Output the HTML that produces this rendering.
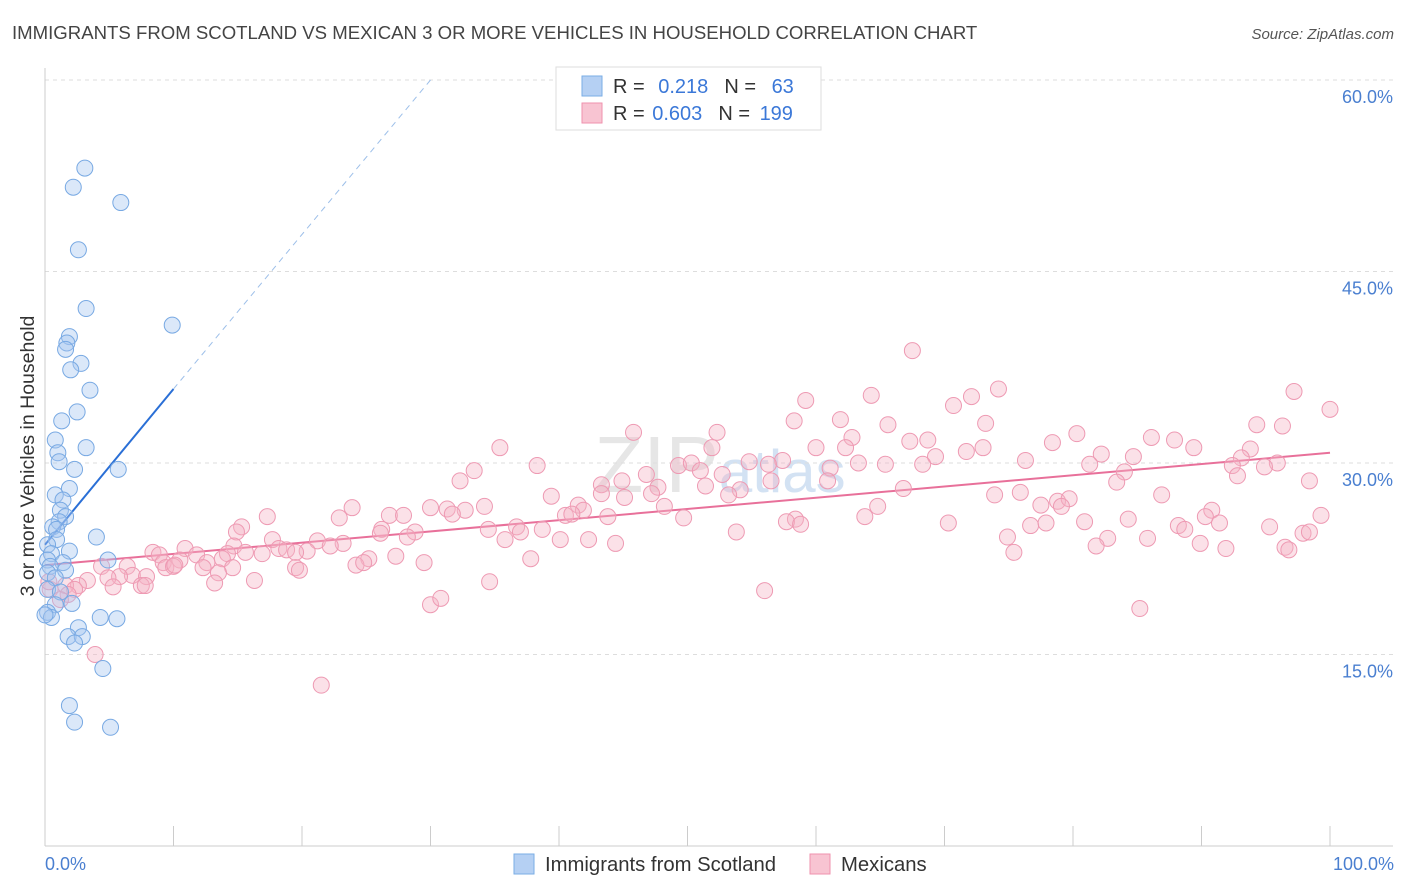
<!DOCTYPE html>
<html><head><meta charset="utf-8">
<style>
body{margin:0;background:#fff;font-family:"Liberation Sans",sans-serif;}
#wrap{position:relative;width:1406px;height:892px;overflow:hidden;}
svg text{font-family:"Liberation Sans",sans-serif;}
</style></head>
<body>
<div id="wrap">
<svg id="chart" width="1406" height="892">
  <text x="12" y="39" font-size="18.6" fill="#444">IMMIGRANTS FROM SCOTLAND VS MEXICAN 3 OR MORE VEHICLES IN HOUSEHOLD CORRELATION CHART</text>
  <text x="1394" y="39" font-size="15" fill="#555" text-anchor="end" font-style="italic">Source: ZipAtlas.com</text>
  <text x="720" y="492" font-size="80" fill="#e6e6e6" text-anchor="middle" font-family="Liberation Serif">ZIP<tspan font-size="60" fill="#d3e2f3" font-family="Liberation Sans">atlas</tspan></text>
  <g id="grid"></g>
  <g id="axes"></g>
  <g id="trend"></g>
  <g id="pts"></g>
  <text x="28" y="456" font-size="19.5" fill="#333" text-anchor="middle" transform="rotate(-90 28 456)" dy="6">3 or more Vehicles in Household</text>
  <text x="45" y="870" font-size="18" fill="#4a7fd0">0.0%</text>
  <text x="1394" y="870" font-size="18" fill="#4a7fd0" text-anchor="end">100.0%</text>
  <g>
    <rect x="556" y="67" width="265" height="63" fill="#fff" stroke="#ddd"/>
    <rect x="582" y="76" width="20" height="20" fill="#b5d0f3" stroke="#7aaee6"/>
    <rect x="582" y="103" width="20" height="20" fill="#f8c4d2" stroke="#ef92ae"/>
    <text x="613" y="93" font-size="20" fill="#333">R = <tspan fill="#3b78d8" dx="8">0.218</tspan><tspan dx="16" fill="#333">N = </tspan><tspan fill="#3b78d8" dx="10">63</tspan></text>
    <text x="613" y="120" font-size="20" fill="#333">R = <tspan fill="#3b78d8" dx="2">0.603</tspan><tspan dx="16" fill="#333">N = </tspan><tspan fill="#3b78d8" dx="4">199</tspan></text>
  </g>
  <g>
    <rect x="514" y="854" width="20" height="20" fill="#b5d0f3" stroke="#7aaee6"/>
    <text x="545" y="871" font-size="20.3" fill="#333">Immigrants from Scotland</text>
    <rect x="810" y="854" width="20" height="20" fill="#f8c4d2" stroke="#ef92ae"/>
    <text x="841" y="871" font-size="20.3" fill="#333">Mexicans</text>
  </g>
</svg>
</div>
<script>
const yTicks=[15,30,45,60];
const yTickLabels=["15.0%","30.0%","45.0%","60.0%"];
const xTicks=[0,10,20,30,40,50,60,70,80,90,100];
const blueX=[3.1,2.2,5.9,2.6,3.2,9.9,1.9,1.7,1.6,2.8,2.0,3.5,2.5,1.3,0.8,3.2,1.0,1.1,2.3,5.7,1.9,0.8,1.4,1.2,1.6,1.1,0.6,0.9,4.0,0.9,0.2,1.9,0.5,4.9,0.2,1.4,0.4,1.6,0.2,0.8,0.2,1.2,2.1,0.8,0.2,0.5,4.3,5.6,2.6,1.8,2.9,2.3,4.5,1.9,2.3,5.1,0.0];
const blueY=[53.1,51.6,50.4,46.7,42.1,40.8,39.9,39.4,38.9,37.8,37.3,35.7,34.0,33.3,31.8,31.2,30.8,30.1,29.5,29.5,28.0,27.5,27.1,26.3,25.8,25.4,25.0,24.8,24.2,24.0,23.6,23.1,22.9,22.4,22.4,22.2,21.9,21.6,21.4,21.0,20.1,19.9,19.0,18.9,18.3,17.9,17.9,17.8,17.1,16.4,16.4,15.9,13.9,11.0,9.7,9.3,18.1];
const pinkX=[3.9,21.5,56.0,85.2,30.0,30.8,67.5,74.2,97.2,100,64.3,72.1,70.7,59.2,61.9,58.3,65.6,73.2,94.3,96.3,45.8,52.3,62.8,80.3,86.1,87.9,78.4,67.3,68.7,35.4,51.9,62.3,60.0,89.4,93.8,71.7,73.0,93.1,84.7,82.2,69.3,76.3,57.4,54.8,63.3,38.3,49.3,50.3,56.3,68.3,81.3,95.9,92.4,94.9,33.4,51.0,61.1,65.4,46.8,52.7,84.0,92.8,32.3,44.9,47.7,56.5,60.9,83.4,98.4,43.3,51.4,66.8,75.9,39.4,43.3,45.1,47.2,54.1,53.2,86.9,73.9,77.5,78.8,79.7,79.1,30.0,31.3,34.2,32.7,23.9,41.5,41.9,48.2,64.8,90.8,17.3,22.9,26.8,27.9,31.7,40.5,41.0,43.8,49.7,58.4,63.8,84.3,90.3,99.3,15.3,14.9,34.5,36.7,37.0,38.7,57.7,58.8,70.3,76.7,77.9,80.9,88.2,88.7,91.4,95.3,26.2,26.1,28.8,28.2,53.8,35.8,40.1,42.3,74.9,82.7,85.8,97.9,98.4,17.7,21.2,23.2,18.2,22.2,14.7,44.4,89.9,91.9,96.5,81.8,15.6,10.9,18.8,20.4,8.4,8.9,11.8,14.2,16.9,19.5,75.4,96.8,13.8,10.5,25.2,27.3,37.8,9.2,12.6,9.4,10.0,10.1,24.2,29.5,24.8,6.4,4.4,12.3,19.5,19.8,14.6,6.8,5.8,7.9,4.9,13.5,13.2,16.3,3.3,2.6,7.5,7.8,5.3,1.6,2.3,1.8,0.4,1.2,0.3,34.6];
const pinkY=[15.0,12.6,20.0,18.6,18.9,19.4,38.8,35.8,35.6,34.2,35.3,35.2,34.5,34.9,33.4,33.3,33.0,33.1,33.0,32.9,32.4,32.4,32.0,32.3,32.0,31.8,31.6,31.7,31.8,31.2,31.2,31.2,31.2,31.2,31.1,30.9,31.2,30.4,30.5,30.7,30.5,30.2,30.2,30.1,30.0,29.8,29.8,30.0,29.9,29.9,29.9,30.0,29.8,29.7,29.4,29.4,29.6,29.9,29.1,29.1,29.3,29.0,28.6,28.6,28.1,28.6,28.6,28.5,28.6,28.3,28.2,28.0,27.7,27.4,27.6,27.3,27.6,27.9,27.5,27.5,27.5,26.7,27.0,27.2,26.6,26.5,26.4,26.6,26.3,26.5,26.7,26.3,26.6,26.6,26.3,25.8,25.7,25.9,25.9,26.0,25.9,26.0,25.8,25.7,25.6,25.8,25.6,25.8,25.9,25.0,24.6,24.8,25.0,24.6,24.8,25.4,25.2,25.3,25.1,25.3,25.4,25.1,24.8,25.3,25.0,24.8,24.5,24.6,24.2,24.6,24.0,24.0,24.0,24.2,24.1,24.1,24.5,24.6,24.0,23.9,23.7,23.3,23.5,23.5,23.7,23.7,23.3,23.4,23.5,23.0,23.3,23.2,23.1,23.0,22.8,22.8,22.9,22.9,23.0,23.0,23.2,22.5,22.4,22.5,22.7,22.5,22.2,22.2,21.8,21.9,22.0,22.0,22.2,22.2,21.9,21.9,21.8,21.8,21.6,21.8,21.2,21.1,21.1,21.0,21.4,20.6,20.8,20.8,20.4,20.4,20.4,20.3,20.4,20.1,19.7,20.1,19.3,20.7,20.7];
const blueTrend=[[0,23.6],[10,35.8]];
const blueTrendExt=[[10,35.8],[30,60.0]];
const pinkTrend=[[0,22.0],[100,30.8]];

const NS="http://www.w3.org/2000/svg";
const X0=45,X1=1330,Y0=846,PXPER=191.5/15;
function sx(v){return X0+(X1-X0)*v/100;}
function sy(v){return Y0-v*PXPER;}
function mk(tag,attrs,parent){const e=document.createElementNS(NS,tag);for(const k in attrs)e.setAttribute(k,attrs[k]);parent.appendChild(e);return e;}
const grid=document.getElementById('grid'),axes=document.getElementById('axes'),trend=document.getElementById('trend'),pts=document.getElementById('pts');
yTicks.forEach((t,i)=>{
  const l=mk('line',{x1:45,x2:1393,y1:sy(t),y2:sy(t),stroke:'#ddd','stroke-dasharray':'4,4'},grid);
  
  
  const tx=mk('text',{x:1393,y:sy(t)+23,'font-size':18,fill:'#4a7fd0','text-anchor':'end'},grid);
  tx.textContent=yTickLabels[i];
  
  
});
const al=mk('line',{x1:45,x2:45,y1:68,y2:Y0,stroke:'#ccc'},axes);


const bl=mk('line',{x1:45,x2:1393,y1:Y0,y2:Y0,stroke:'#ccc'},axes);


xTicks.forEach(t=>{
  const l=mk('line',{x1:sx(t),x2:sx(t),y1:826,y2:Y0,stroke:'#ccc'},axes);
  
  
});
function pt(x,y,fill,stroke,name){
  const c=mk('circle',{cx:sx(x),cy:sy(y),r:8,fill:fill,'fill-opacity':0.4,stroke:stroke,'stroke-width':1},pts);
  
  
}
pinkX.forEach((x,i)=>pt(x,pinkY[i],'#f5b3c6','#ee9ab3','point-mexicans'));
blueX.forEach((x,i)=>pt(x,blueY[i],'#a5c6ef','#78a9e3','point-scotland'));
const bt=mk('line',{x1:sx(blueTrend[0][0]),y1:sy(blueTrend[0][1]),x2:sx(blueTrend[1][0]),y2:sy(blueTrend[1][1]),stroke:'#2a6fd6','stroke-width':2},trend);


const be=mk('line',{x1:sx(blueTrendExt[0][0]),y1:sy(blueTrendExt[0][1]),x2:sx(blueTrendExt[1][0]),y2:sy(blueTrendExt[1][1]),stroke:'#9dbfe9','stroke-width':1,'stroke-dasharray':'6,5'},trend);


const pl=mk('line',{x1:sx(pinkTrend[0][0]),y1:sy(pinkTrend[0][1]),x2:sx(pinkTrend[1][0]),y2:sy(pinkTrend[1][1]),stroke:'#e8709a','stroke-width':2},trend);


</script>
</body></html>
